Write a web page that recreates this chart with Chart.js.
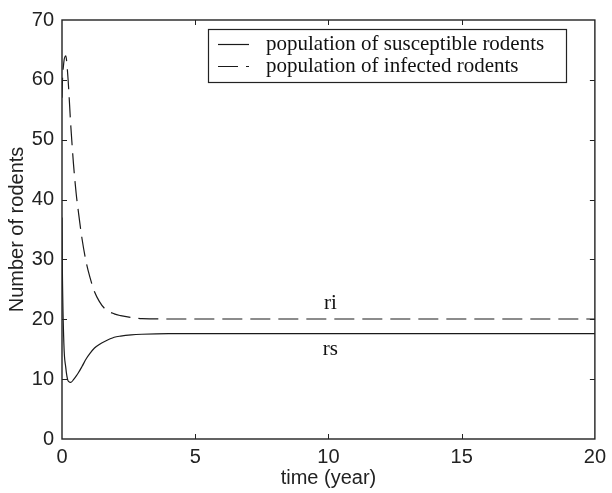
<!DOCTYPE html>
<html>
<head>
<meta charset="utf-8">
<script src="https://cdn.jsdelivr.net/npm/chart.js@4.4.1/dist/chart.umd.min.js"></script>
<style>
  html, body { margin: 0; padding: 0; background: #fff; }
  #wrap { width: 612px; height: 493px; }
</style>
</head>
<body>
<div id="wrap"><canvas id="rodentChart" width="612" height="493"></canvas></div>
<script>
// time samples (years)
const years       = [0, 0.01, 0.07, 0.14, 0.22, 0.29, 0.32, 0.35, 0.43, 0.53, 0.62, 0.75, 0.91, 1.05, 1.22, 1.4, 1.6, 1.96, 2.2, 2.6, 3, 4, 6, 10, 15, 20];
const susceptible = [37, 30, 16, 12, 9.8, 9.5, 9.45, 9.5, 9.9, 10.5, 11.1, 12.1, 13.4, 14.3, 15.2, 15.8, 16.3, 17, 17.2, 17.4, 17.5, 17.6, 17.6, 17.6, 17.6, 17.6];
const infected    = [57, 59, 63, 64, 60.6, 55.4, 53, 51, 46, 41.1, 37.8, 33.5, 29.5, 27, 24.6, 23, 21.8, 20.9, 20.6, 20.3, 20.1, 20.05, 20.05, 20.05, 20.05, 20.05];

const seriesNames = ['population of susceptible rodents', 'population of infected rodents'];
const xTickValues = [0, 5, 10, 15, 20];
const yTickValues = [0, 10, 20, 30, 40, 50, 60, 70];

// curve tags written on the plot
const tagText   = ['rs', 'ri'];
const tagYear   = [10, 10];
const tagValue  = [15, 22.7];

const ink = '#1a1a1a';
const sansFont = '"Liberation Sans", Arial, sans-serif';
const serifFont = '"Liberation Serif", "Times New Roman", serif';

function toPoints(vals) {
    return years.map((t, i) => ({ x: t, y: vals[i] }));
}

// MATLAB-like box, inward ticks, boxed legend and curve tags
const boxPlugin = {
    id: 'boxPlugin',
    afterDraw(chart) {
        const ctx = chart.ctx;
        const a = chart.chartArea;
        const xs = chart.scales.x, ys = chart.scales.y;
        const tl = 5;
        ctx.save();
        ctx.strokeStyle = '#222';
        ctx.lineWidth = 1.4;
        ctx.strokeRect(a.left, a.top, a.right - a.left, a.bottom - a.top);

        ctx.lineWidth = 1;
        ctx.beginPath();
        xTickValues.slice(1, -1).forEach(v => {
            const px = Math.round(xs.getPixelForValue(v)) + 0.5;
            ctx.moveTo(px, a.bottom); ctx.lineTo(px, a.bottom - tl);
            ctx.moveTo(px, a.top); ctx.lineTo(px, a.top + tl);
        });
        yTickValues.slice(1, -1).forEach(v => {
            const py = Math.round(ys.getPixelForValue(v)) + 0.5;
            ctx.moveTo(a.left, py); ctx.lineTo(a.left + tl, py);
            ctx.moveTo(a.right, py); ctx.lineTo(a.right - tl, py);
        });
        ctx.stroke();

        // legend box
        const lx = 208, ly = 29, lw = 358, lh = 53;
        ctx.fillStyle = '#fff';
        ctx.fillRect(lx, ly, lw, lh);
        ctx.strokeStyle = '#222';
        ctx.lineWidth = 1.2;
        ctx.strokeRect(lx + 0.5, ly + 0.5, lw, lh);

        ctx.font = '21px ' + serifFont;
        ctx.textBaseline = 'middle';
        ctx.textAlign = 'left';
        chart.data.datasets.forEach((ds, i) => {
            const ry = ly + 15 + i * 22;
            ctx.strokeStyle = ink;
            ctx.lineWidth = 1.2;
            ctx.setLineDash(ds.borderDash || []);
            ctx.beginPath();
            ctx.moveTo(218, ry + 0.5);
            ctx.lineTo(249, ry + 0.5);
            ctx.stroke();
            ctx.setLineDash([]);
            ctx.fillStyle = '#111';
            ctx.fillText(ds.label, 266, ry);
        });

        // curve tags
        ctx.textAlign = 'center';
        tagText.forEach((txt, i) => {
            ctx.fillText(txt, xs.getPixelForValue(tagYear[i]) + 2, ys.getPixelForValue(tagValue[i]));
        });
        ctx.restore();
    }
};

const ctxRodent = document.getElementById('rodentChart').getContext('2d');
new Chart(ctxRodent, {
    type: 'line',
    data: {
        datasets: [{
            label: seriesNames[0],
            data: toPoints(susceptible),
            borderColor: ink,
            borderWidth: 1.2,
            pointRadius: 0,
            cubicInterpolationMode: 'monotone',
            fill: false
        }, {
            label: seriesNames[1],
            data: toPoints(infected),
            borderColor: ink,
            borderWidth: 1.2,
            borderDash: [20, 8],
            pointRadius: 0,
            cubicInterpolationMode: 'monotone',
            fill: false
        }]
    },
    options: {
        responsive: false,
        animation: false,
        devicePixelRatio: 1,
        layout: { padding: { top: 15, right: 12, left: 0, bottom: 0 } },
        plugins: {
            legend: { display: false },
            tooltip: { enabled: false }
        },
        scales: {
            x: {
                type: 'linear',
                min: 0, max: 20,
                afterBuildTicks: s => { s.ticks = xTickValues.map(v => ({ value: v })); },
                afterFit: s => { s.height = 54; },
                grid: { display: false, drawTicks: false },
                border: { display: false },
                ticks: { color: '#222', padding: 6, font: { family: sansFont, size: 20 } },
                title: {
                    display: true, text: 'time (year)', color: '#222',
                    font: { family: sansFont, size: 20 },
                    padding: { top: 0, bottom: 3 }
                }
            },
            y: {
                min: 0, max: 70,
                afterBuildTicks: s => { s.ticks = yTickValues.map(v => ({ value: v })); },
                afterFit: s => { s.width = 62; },
                grid: { display: false, drawTicks: false },
                border: { display: false },
                ticks: { color: '#222', padding: 8, font: { family: sansFont, size: 20 } },
                title: {
                    display: true, text: 'Number of rodents', color: '#222',
                    font: { family: sansFont, size: 20 },
                    padding: { top: 5, bottom: 0 }
                }
            }
        }
    },
    plugins: [boxPlugin]
});
</script>
</body>
</html>
